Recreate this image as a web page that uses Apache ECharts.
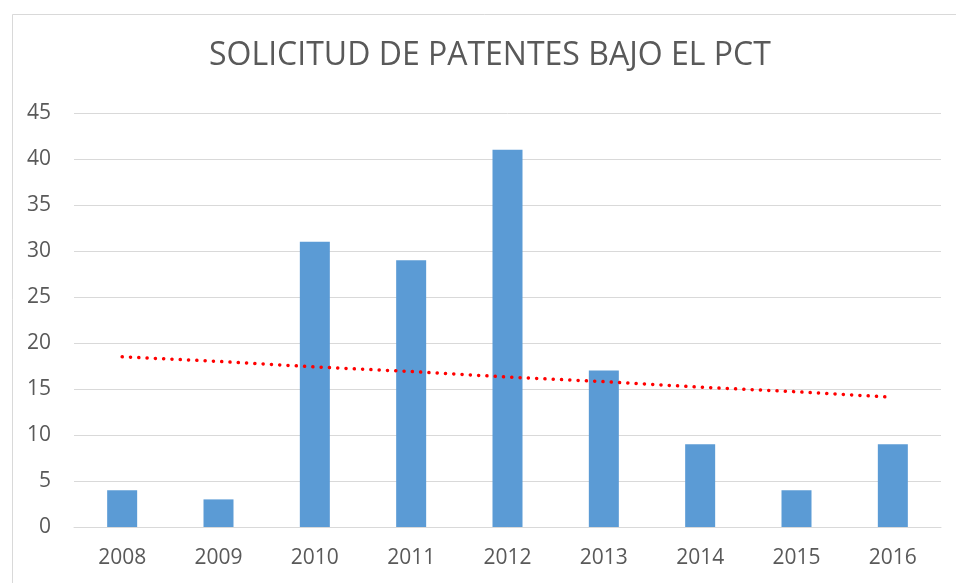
<!DOCTYPE html>
<html>
<head>
<meta charset="utf-8">
<script src="https://cdn.jsdelivr.net/npm/echarts@6/dist/echarts.min.js"></script>
<style>html,body{margin:0;padding:0;background:#fff}#c{width:956px;height:583px}</style>
</head>
<body>
<div id="c"></div>
<script>
const years = ['2008','2009','2010','2011','2012','2013','2014','2015','2016'];
const solicitudes = [4, 3, 31, 29, 41, 17, 9, 4, 9];
const tendencia = [18.5, 18.0, 17.4, 16.9, 16.3, 15.8, 15.2, 14.7, 14.1];
const titleText = 'SOLICITUD DE PATENTES BAJO EL PCT';

const chart = echarts.init(document.getElementById('c'), null, {renderer: 'canvas'});
const font = 'Open Sans';
chart.setOption({
  animation: false,
  backgroundColor: '#fff',
  graphic: [{
    type: 'rect', left: 10, top: 12,
    shape: {width: 1000, height: 700},
    style: {fill: 'none', stroke: '#d9d9d9', lineWidth: 1}
  }],
  title: {
    text: titleText, left: 204, top: 35,
    textStyle: {fontFamily: font, fontSize: 32, fontWeight: 'normal', color: '#595959'}
  },
  grid: {left: 74, right: 15, top: 113, bottom: 56, containLabel: false},
  xAxis: {
    type: 'category', data: years,
    axisLine: {lineStyle: {color: '#d9d9d9', width: 1}},
    axisTick: {show: false},
    axisLabel: {fontFamily: font, fontSize: 21, color: '#595959', margin: 21}
  },
  yAxis: {
    type: 'value', min: 0, max: 45, interval: 5,
    axisLine: {show: false}, axisTick: {show: false},
    splitLine: {lineStyle: {color: '#d9d9d9', width: 1}},
    axisLabel: {fontFamily: font, fontSize: 21, color: '#595959', margin: 23}
  },
  series: [{
    type: 'bar', data: solicitudes, barWidth: 30,
    itemStyle: {color: '#5b9bd5'}
  }, {
    type: 'line', data: tendencia, symbol: 'none', z: 5,
    lineStyle: {color: '#ff0000', width: 3.5, type: [0.1, 8.2], cap: 'round'}
  }]
});
</script>
</body>
</html>
